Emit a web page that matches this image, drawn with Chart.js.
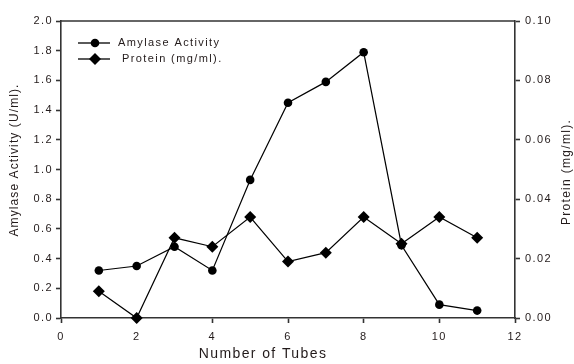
<!DOCTYPE html>
<html><head><meta charset="utf-8">
<script src="https://cdn.jsdelivr.net/npm/chart.js@4/dist/chart.umd.min.js"></script>
<style>html,body{margin:0;padding:0;background:#fff}#wrap{width:574px;height:364px}</style>
</head><body><div id="wrap"><canvas id="c" width="574" height="364"></canvas></div>
<script>
const tubes = [1,2,3,4,5,6,7,8,9,10,11];
const amylase = [0.32,0.35,0.48,0.32,0.93,1.45,1.59,1.79,0.49,0.09,0.05];
const protein = [0.009,0.0,0.027,0.024,0.034,0.019,0.022,0.034,0.025,0.034,0.027];
const xTitle = 'Number of Tubes';
const yTitle = 'Amylase Activity (U/ml).';
const y1Title = 'Protein (mg/ml).';
const legendLabels = ['Amylase Activity', 'Protein (mg/ml).'];

const FONT = 'Liberation Sans, Arial, sans-serif';
const TXT = '#221a1a';

function spacedText(ctx, text, x, y, size, spacing) {
  ctx.font = size + 'px ' + FONT;
  ctx.letterSpacing = spacing + 'px';
  ctx.fillText(text, x, y);
}

const overlay = {
  id: 'overlay',
  beforeDraw(chart) { chart.ctx.letterSpacing = '1.4px'; },
  afterDraw(chart) {
    const ctx = chart.ctx, a = chart.chartArea;
    ctx.save();
    ctx.strokeStyle = '#333'; ctx.lineWidth = 1.6;
    ctx.beginPath(); ctx.moveTo(a.left, a.top); ctx.lineTo(a.right, a.top); ctx.stroke();
    ctx.fillStyle = TXT;
    ctx.textAlign = 'center'; ctx.textBaseline = 'middle';
    spacedText(ctx, xTitle, 263, 354, 14, 1.4);
    ctx.save(); ctx.translate(15, 160); ctx.rotate(-Math.PI/2); spacedText(ctx, yTitle, 0, 0, 12, 1.1); ctx.restore();
    ctx.save(); ctx.translate(567, 172); ctx.rotate(-Math.PI/2); spacedText(ctx, y1Title, 0, 0, 12, 1.3); ctx.restore();
    // legend
    const rows = [{y:43, style:'circle'}, {y:59, style:'rectRot'}];
    ctx.textAlign = 'left';
    rows.forEach((r, i) => {
      ctx.strokeStyle = '#000'; ctx.lineWidth = 1.3;
      ctx.beginPath(); ctx.moveTo(78, r.y); ctx.lineTo(110, r.y); ctx.stroke();
      ctx.fillStyle = '#000';
      ctx.beginPath();
      if (r.style === 'circle') { ctx.arc(95, r.y, 4.3, 0, Math.PI*2); }
      else { ctx.moveTo(95, r.y-6); ctx.lineTo(101, r.y); ctx.lineTo(95, r.y+6); ctx.lineTo(89, r.y); ctx.closePath(); }
      ctx.fill();
      ctx.fillStyle = TXT;
      spacedText(ctx, legendLabels[i], i === 0 ? 118 : 122, r.y, 11, 1.4);
    });
    ctx.restore();
    ctx.letterSpacing = '0px';
  }
};

new Chart(document.getElementById('c'), {
  type: 'line',
  data: {
    datasets: [
      { label: legendLabels[0], data: tubes.map((t,i)=>({x:t, y:amylase[i]})), yAxisID: 'y',
        borderColor: '#000', borderWidth: 1.2, backgroundColor: '#000', pointStyle: 'circle', pointRadius: 4.3,
        pointBorderWidth: 0, clip: false, tension: 0 },
      { label: legendLabels[1], data: tubes.map((t,i)=>({x:t, y:protein[i]})), yAxisID: 'y1',
        borderColor: '#000', borderWidth: 1.2, backgroundColor: '#000', pointStyle: 'rectRot', pointRadius: 6,
        pointBorderWidth: 0, clip: false, tension: 0 }
    ]
  },
  options: {
    responsive: false, animation: false, events: [],
    layout: { padding: { top: 21, left: 0, right: 0, bottom: 0 } },
    plugins: { legend: { display: false }, tooltip: { enabled: false } },
    scales: {
      x: { type: 'linear', min: 0, max: 12, position: 'bottom',
        ticks: { stepSize: 2, color: TXT, font: { family: FONT, size: 11 }, padding: 7 },
        grid: { drawOnChartArea: false, tickLength: 5, color: '#333', tickWidth: 1.6 },
        border: { color: '#333', width: 1.6 },
        afterFit(s) { s.height = 46; } },
      y: { type: 'linear', min: 0, max: 2, position: 'left',
        ticks: { stepSize: 0.2, color: TXT, font: { family: FONT, size: 11 }, padding: 3, callback: v => v.toFixed(1) },
        grid: { drawOnChartArea: false, tickLength: 5, color: '#333', tickWidth: 1.6 },
        border: { color: '#333', width: 1.6 },
        afterFit(s) { s.width = 61; } },
      y1: { type: 'linear', min: 0, max: 0.1, position: 'right',
        ticks: { stepSize: 0.02, color: TXT, font: { family: FONT, size: 11 }, padding: 5, callback: v => v.toFixed(2) },
        grid: { drawOnChartArea: false, tickLength: 5, color: '#333', tickWidth: 1.6 },
        border: { color: '#333', width: 1.6 },
        afterFit(s) { s.width = 59; } }
    }
  },
  plugins: [overlay]
});
</script></body></html>
